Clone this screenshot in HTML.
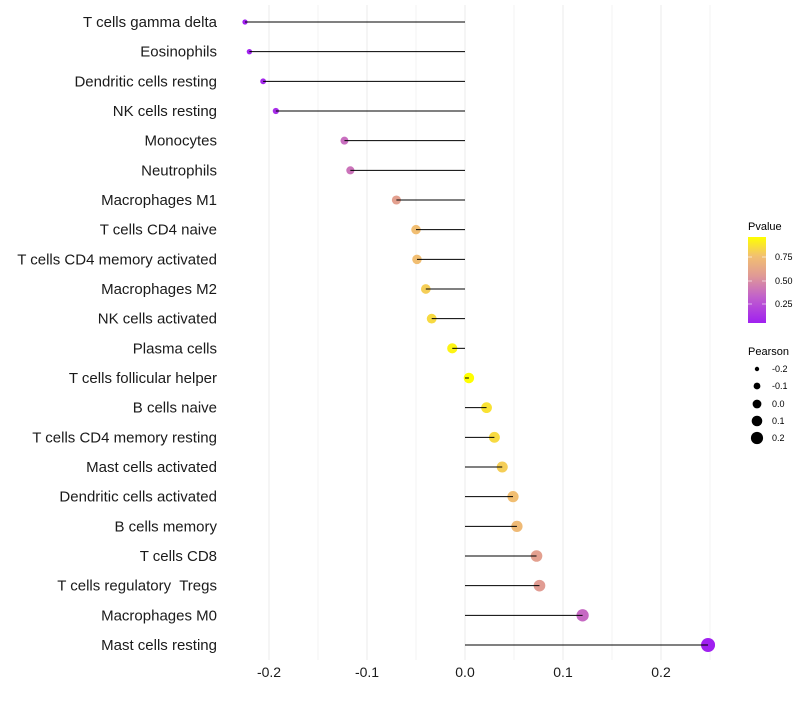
<!DOCTYPE html>
<html><head><meta charset="utf-8"><style>
body{margin:0;background:#fff;font-family:"Liberation Sans",sans-serif}
</style></head><body>
<svg id="c" width="800" height="700" xmlns="http://www.w3.org/2000/svg">
<defs><linearGradient id="pg" x1="0" y1="1" x2="0" y2="0">
<stop offset="0" stop-color="#a020f0"/><stop offset="0.3" stop-color="#c160cc"/><stop offset="0.55" stop-color="#e09a95"/><stop offset="0.78" stop-color="#f2c070"/><stop offset="1" stop-color="#ffff00"/>
</linearGradient></defs>
<g id="grid"></g><g id="marks"></g><g id="labels"></g>
<g font-size="11">
<text x="748" y="230" fill="#000">Pvalue</text>
<rect x="748" y="237" width="18" height="86" fill="url(#pg)"/>
<g stroke="#fff" stroke-opacity="0.6"><line x1="748" y1="257" x2="752" y2="257"/><line x1="762" y1="257" x2="766" y2="257"/><line x1="748" y1="281" x2="752" y2="281"/><line x1="762" y1="281" x2="766" y2="281"/><line x1="748" y1="304" x2="752" y2="304"/><line x1="762" y1="304" x2="766" y2="304"/></g>
<text x="775" y="260" font-size="9">0.75</text><text x="775" y="284" font-size="9">0.50</text><text x="775" y="307" font-size="9">0.25</text>
</g>
<g>
<text x="748" y="355" font-size="11">Pearson</text>
<circle cx="757" cy="369" r="2.2"/><text x="772" y="372" font-size="9">-0.2</text>
<circle cx="757" cy="386" r="3.4"/><text x="772" y="389" font-size="9">-0.1</text>
<circle cx="757" cy="404" r="4.4"/><text x="772" y="407" font-size="9">0.0</text>
<circle cx="757" cy="421" r="5.3"/><text x="772" y="424" font-size="9">0.1</text>
<circle cx="757" cy="438" r="6.1"/><text x="772" y="441" font-size="9">0.2</text>
</g>
</svg>
<script>
const categories=["T cells gamma delta","Eosinophils","Dendritic cells resting","NK cells resting","Monocytes","Neutrophils","Macrophages M1","T cells CD4 naive","T cells CD4 memory activated","Macrophages M2","NK cells activated","Plasma cells","T cells follicular helper","B cells naive","T cells CD4 memory resting","Mast cells activated","Dendritic cells activated","B cells memory","T cells CD8","T cells regulatory  Tregs","Macrophages M0","Mast cells resting"];
const pearson=[-0.2245,-0.220,-0.206,-0.193,-0.123,-0.117,-0.070,-0.050,-0.049,-0.040,-0.034,-0.013,0.004,0.022,0.030,0.038,0.049,0.053,0.073,0.076,0.120,0.248];
const pvalue=[0.05,0.06,0.08,0.1,0.36,0.38,0.58,0.74,0.74,0.8,0.84,0.93,0.97,0.87,0.84,0.8,0.74,0.72,0.58,0.56,0.34,0.05];
const ticks=[-0.2,-0.1,0.0,0.1,0.2];
const tickLabels=["-0.2","-0.1","0.0","0.1","0.2"];
const NS="http://www.w3.org/2000/svg";
const xs=v=>465+v*980;
const ys=i=>22+i*(623/21);
const rs=v=>Math.sqrt(Math.max(4,27+90*v));
function hex(c){return[parseInt(c.slice(1,3),16),parseInt(c.slice(3,5),16),parseInt(c.slice(5,7),16)];}
const stops=[[0.05,hex("#a020f0")],[0.3,hex("#c160cc")],[0.55,hex("#e09a95")],[0.75,hex("#f2c070")],[0.97,hex("#ffff00")]];
function col(p){let i=0;while(i<stops.length-2&&p>stops[i+1][0])i++;const a=stops[i],b=stops[i+1];
let t=Math.max(0,Math.min(1,(p-a[0])/(b[0]-a[0])));return "rgb("+a[1].map((v,k)=>Math.round(v+(b[1][k]-v)*t)).join(",")+")";}
function mk(t,at,parent){const e=document.createElementNS(NS,t);for(const k in at)e.setAttribute(k,at[k]);parent.appendChild(e);return e;}
const grid=document.getElementById('grid'),marks=document.getElementById('marks'),labels=document.getElementById('labels');
for(let k=-5;k<=5;k++){const v=k*0.05;const x=xs(v);if(x<240||x>715)continue;
const g=mk('line',{x1:x,x2:x,y1:5,y2:660,stroke:'#ebebeb','stroke-width':k%2===0?1:0.6},grid);

}
ticks.forEach((v,i)=>{const t=mk('text',{x:xs(v),y:677,'text-anchor':'middle','font-size':14,fill:'#1a1a1a'},labels);t.textContent=tickLabels[i];

});
categories.forEach((c,i)=>{const y=ys(i);
const t=mk('text',{x:217,y:y+5,'text-anchor':'end','font-size':15,fill:'#1a1a1a'},labels);t.textContent=c;t.style.whiteSpace='pre';


const d=mk('circle',{cx:xs(pearson[i]),cy:y,r:rs(pearson[i]),fill:col(pvalue[i])},marks);


const l=mk('line',{x1:xs(0),x2:xs(pearson[i]),y1:y,y2:y,stroke:'#000','stroke-width':1},marks);

});
</script>
</body></html>
